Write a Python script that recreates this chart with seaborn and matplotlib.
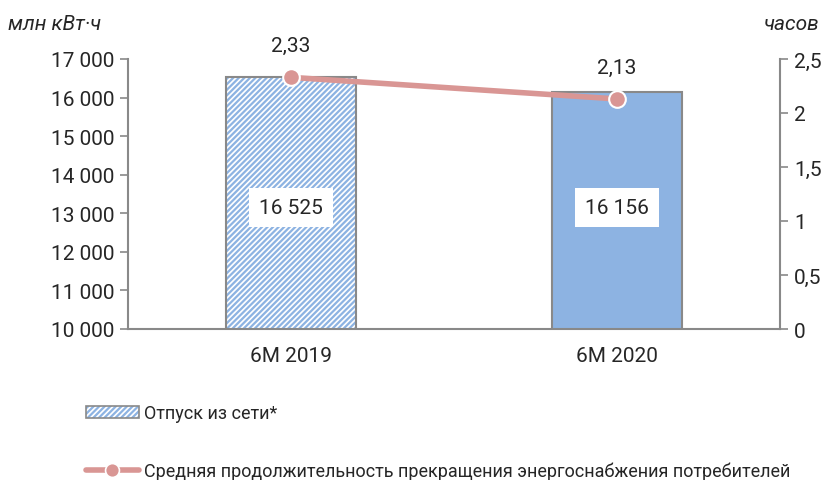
import numpy as np
import matplotlib
matplotlib.use("Agg")
import matplotlib.pyplot as plt
import seaborn as sns
from matplotlib.patches import Patch, Rectangle
from matplotlib.lines import Line2D
from matplotlib.legend_handler import HandlerTuple

periods = ["6M 2019", "6M 2020"]
supply = [16525, 16156]          # млн кВт·ч
hours = [2.33, 2.13]             # часов
left_ticks = [10000, 11000, 12000, 13000, 14000, 15000, 16000, 17000]
right_ticks = [0, 0.5, 1, 1.5, 2, 2.5]

bar_blue = "#8DB3E2"
line_pink = "#D99694"
grey = "#898989"

sns.set_style("white")
plt.rcParams["font.family"] = ["Roboto", "DejaVu Sans"]
plt.rcParams["hatch.linewidth"] = 1.6

fig = plt.figure(figsize=(8.35, 4.81), dpi=100)
ax = fig.add_axes([128 / 835, 1 - 330 / 481, 652 / 835, 270 / 481])

sns.barplot(x=periods, y=supply, ax=ax, width=0.4, color=bar_blue,
            edgecolor=grey, linewidth=1.5, saturation=1)

# first bar: white with blue diagonal stripes, grey outline on top
p = ax.patches[0]
p.set_facecolor("white")
p.set_edgecolor(bar_blue)
p.set_hatch("//////")
p.set_linewidth(0)
ax.add_patch(Rectangle(p.get_xy(), p.get_width(), p.get_height(),
                       facecolor="none", edgecolor=grey, linewidth=1.5, zorder=3))

ax.set_ylim(10000, 17000)
ax.set_xlim(-0.5, 1.5)
ax.set_yticks(left_ticks)
ax.set_yticklabels([f"{v:,}".replace(",", " ") for v in left_ticks], fontsize=15)
ax.tick_params(axis="y", length=6, width=1.2, color=grey, pad=4, left=True)
ax.tick_params(axis="x", length=0, labelsize=15, pad=12)
for s in ["top", "right"]:
    ax.spines[s].set_visible(False)
for s in ["left", "bottom"]:
    ax.spines[s].set_color(grey)
    ax.spines[s].set_linewidth(1.5)

for i, v in enumerate(supply):
    ax.text(i, 13150, f"{v:,}".replace(",", " "), ha="center", va="center", fontsize=15,
            bbox=dict(facecolor="white", edgecolor="none", pad=7), zorder=5)

ax2 = ax.twinx()
sns.lineplot(x=np.arange(len(periods)), y=hours, ax=ax2, color=line_pink, linewidth=4,
             marker="o", markersize=12, markeredgecolor="white", markeredgewidth=1.5)
ax2.set_ylim(0, 2.5)
ax2.set_yticks(right_ticks)
ax2.set_yticklabels([f"{v:g}".replace(".", ",") for v in right_ticks], fontsize=15)
ax2.tick_params(axis="y", length=6, width=1.2, color=grey, pad=4, right=True)
for s in ["top", "left", "bottom"]:
    ax2.spines[s].set_visible(False)
ax2.spines["right"].set_color(grey)
ax2.spines["right"].set_linewidth(1.5)
ax2.set_xlim(-0.5, 1.5)

for i, v in enumerate(hours):
    ax2.annotate(f"{v:.2f}".replace(".", ","), (i, v), xytext=(0, 16),
                 textcoords="offset points", ha="center", va="bottom", fontsize=15)

fig.text(8 / 835, 1 - 24 / 481, "млн кВт·ч", style="italic", fontsize=15, ha="left", va="center")
fig.text(820 / 835, 1 - 24 / 481, "часов", style="italic", fontsize=15, ha="right", va="center")

h1 = (Patch(facecolor="white", edgecolor=bar_blue, hatch="//////", linewidth=0),
      Patch(facecolor="none", edgecolor=grey, linewidth=1.2))
h2 = Line2D([], [], color=line_pink, linewidth=4, marker="o", markersize=10,
            markeredgecolor="white", markeredgewidth=1.2)
fig.legend([h1, h2], ["Отпуск из сети*",
                      "Средняя продолжительность прекращения энергоснабжения потребителей"],
           handler_map={tuple: HandlerTuple(ndivide=1, pad=0)},
           loc="upper left", bbox_to_anchor=(70 / 835, 1 - 389 / 481), frameon=False,
           fontsize=13, handlelength=2.9, handleheight=0.6, handletextpad=0.3,
           labelspacing=2.15, numpoints=1)

fig.savefig("out.png", dpi=100)
